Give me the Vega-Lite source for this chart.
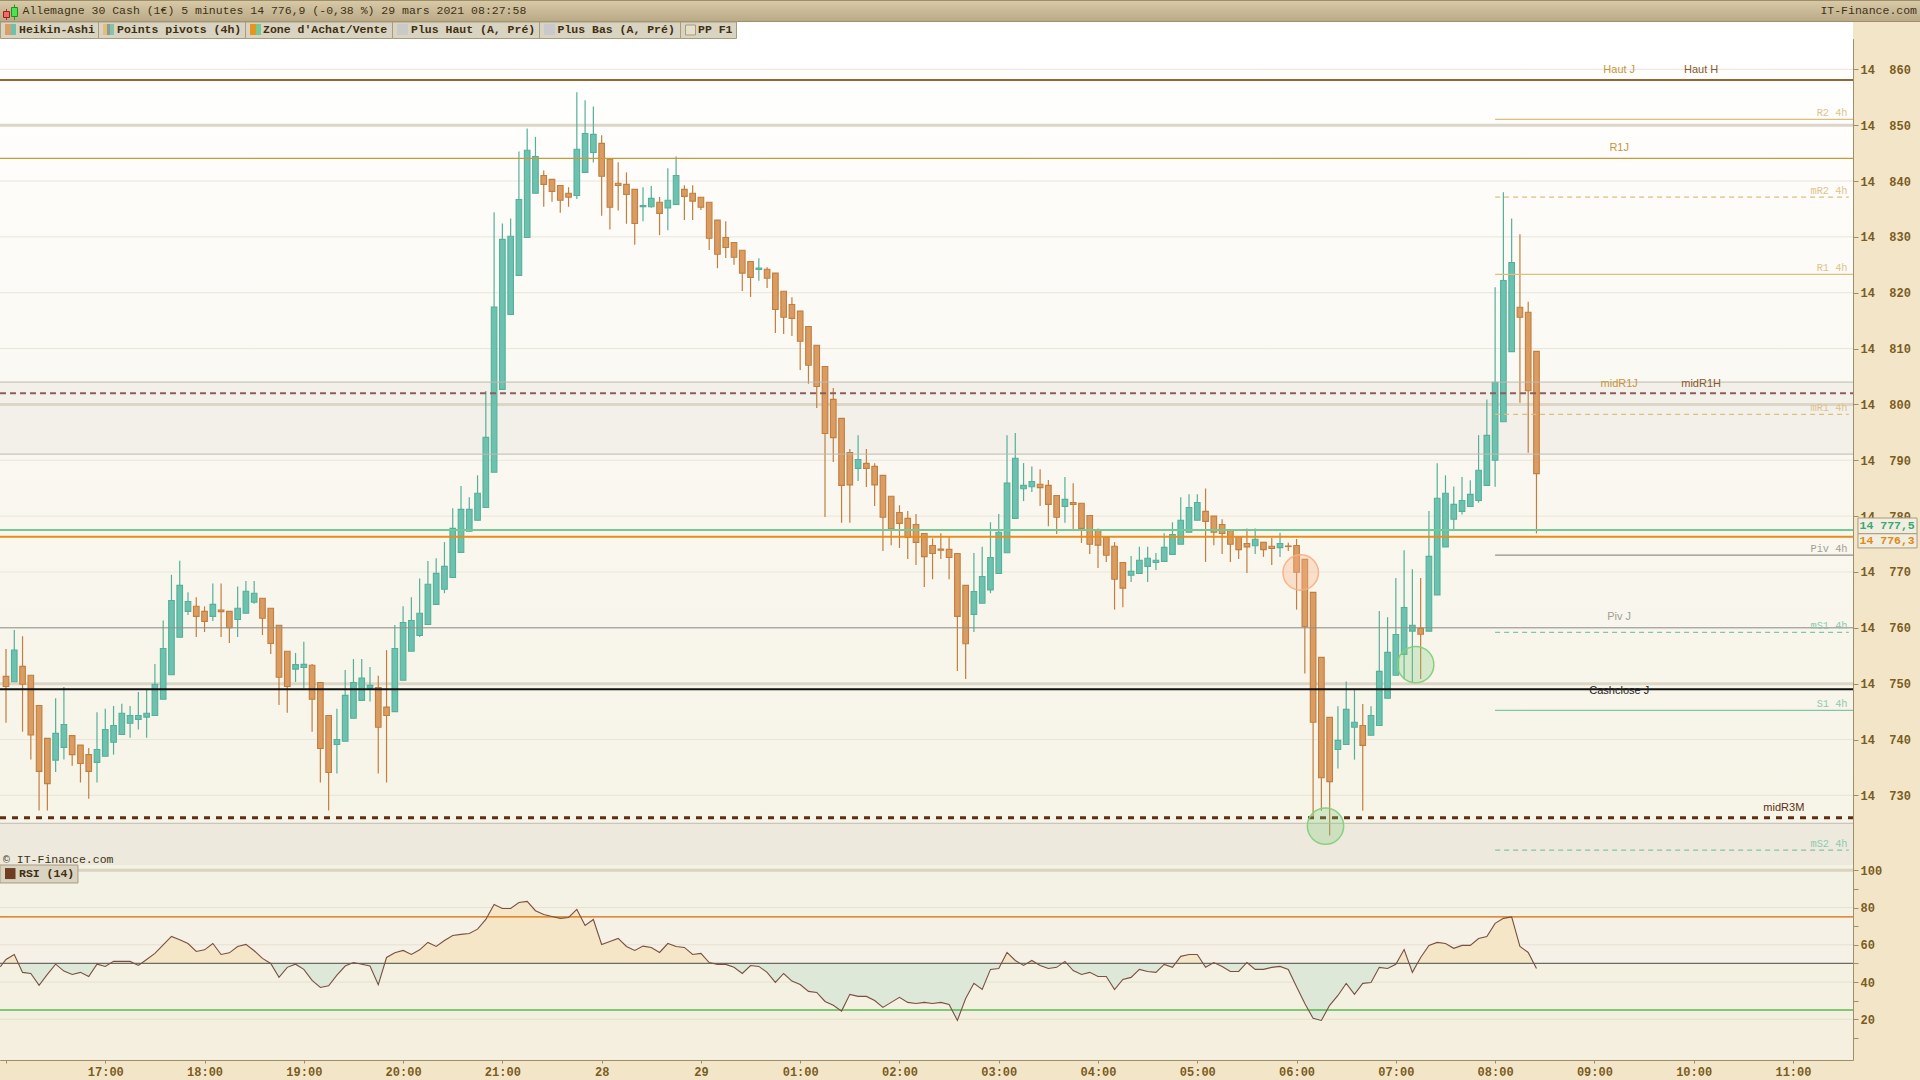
{
  "$schema": "https://vega.github.io/schema/vega-lite/v6.json",
  "padding": {"left": -3, "top": 0, "right": 0, "bottom": 0},
  "background": "#f3e6c8",
  "spacing": 0,
  "bounds": "flush",
  "config": {"concat": {"spacing": 0}, "text": {"font": "Liberation Mono"}},
  "datasets": {
    "candles": [
      {"i":0,"open":14751.3,"high":14756.2,"low":14743,"close":14749.5},
      {"i":1,"open":14750.35,"high":14759.6,"low":14750.35,"close":14756},
      {"i":2,"open":14753.1,"high":14758.5,"low":14741.4,"close":14749.9},
      {"i":3,"open":14751.5,"high":14751.5,"low":14736.4,"close":14740.8},
      {"i":4,"open":14746.1,"high":14746.1,"low":14727.3,"close":14734.3},
      {"i":5,"open":14740.2,"high":14740.2,"low":14727.3,"close":14732.1},
      {"i":6,"open":14736.3,"high":14747.4,"low":14734.2,"close":14741.1},
      {"i":7,"open":14738.6,"high":14749.4,"low":14736.4,"close":14742.7},
      {"i":8,"open":14740.7,"high":14740.7,"low":14735.3,"close":14737.3},
      {"i":9,"open":14739,"high":14739,"low":14732.3,"close":14735.7},
      {"i":10,"open":14737.3,"high":14738.5,"low":14729.4,"close":14734.3},
      {"i":11,"open":14735.9,"high":14744.9,"low":14732.3,"close":14738.2},
      {"i":12,"open":14737,"high":14745.5,"low":14737,"close":14741.8},
      {"i":13,"open":14739.5,"high":14746,"low":14737.3,"close":14742.5},
      {"i":14,"open":14740.9,"high":14746.4,"low":14740.9,"close":14744.7},
      {"i":15,"open":14742.9,"high":14746,"low":14740.3,"close":14744.3},
      {"i":16,"open":14743.6,"high":14748.5,"low":14741.8,"close":14744.3},
      {"i":17,"open":14744,"high":14748.9,"low":14740.3,"close":14744.7},
      {"i":18,"open":14744.3,"high":14753.5,"low":14744.3,"close":14749.9},
      {"i":19,"open":14747.2,"high":14761.3,"low":14747.2,"close":14756.3},
      {"i":20,"open":14751.6,"high":14769.5,"low":14751.6,"close":14764.9},
      {"i":21,"open":14758.3,"high":14772,"low":14758.3,"close":14767.6},
      {"i":22,"open":14762.95,"high":14766.35,"low":14762.3,"close":14764.7},
      {"i":23,"open":14763.85,"high":14765.45,"low":14758.35,"close":14762.05},
      {"i":24,"open":14762.95,"high":14763.85,"low":14759.25,"close":14761.15},
      {"i":25,"open":14762.05,"high":14767.95,"low":14761.2,"close":14764.2},
      {"i":26,"open":14763.2,"high":14767.95,"low":14758.35,"close":14762.9},
      {"i":27,"open":14762.95,"high":14762.95,"low":14757.3,"close":14760},
      {"i":28,"open":14761.5,"high":14767.4,"low":14758.35,"close":14763.5},
      {"i":29,"open":14762.6,"high":14768.4,"low":14762.6,"close":14766.55},
      {"i":30,"open":14764.6,"high":14768.4,"low":14764.3,"close":14766.2},
      {"i":31,"open":14765.3,"high":14765.3,"low":14758.7,"close":14761.7},
      {"i":32,"open":14763.5,"high":14763.5,"low":14755.3,"close":14757.2},
      {"i":33,"open":14760.45,"high":14760.45,"low":14746.2,"close":14751.15},
      {"i":34,"open":14755.8,"high":14755.8,"low":14744.8,"close":14749.5},
      {"i":35,"open":14752.6,"high":14755.5,"low":14750.3,"close":14753.4},
      {"i":36,"open":14752.9,"high":14757.5,"low":14749.2,"close":14753.45},
      {"i":37,"open":14753.3,"high":14753.5,"low":14741.4,"close":14747.2},
      {"i":38,"open":14750.2,"high":14750.2,"low":14732.3,"close":14738.4},
      {"i":39,"open":14744.3,"high":14744.3,"low":14727.3,"close":14734.1},
      {"i":40,"open":14739.1,"high":14745.5,"low":14733.9,"close":14740},
      {"i":41,"open":14739.7,"high":14752.45,"low":14739.7,"close":14747.9},
      {"i":42,"open":14743.8,"high":14754.4,"low":14743.8,"close":14750.2},
      {"i":43,"open":14747,"high":14754.4,"low":14747,"close":14751},
      {"i":44,"open":14749.2,"high":14753,"low":14746.8,"close":14749.7},
      {"i":45,"open":14749.3,"high":14751.4,"low":14733.9,"close":14742.2},
      {"i":46,"open":14745.8,"high":14756,"low":14732.3,"close":14744.3},
      {"i":47,"open":14745,"high":14760.5,"low":14745,"close":14756.3},
      {"i":48,"open":14750.6,"high":14763.85,"low":14750.6,"close":14760.95},
      {"i":49,"open":14755.8,"high":14765.45,"low":14755.8,"close":14761.3},
      {"i":50,"open":14758.65,"high":14768.85,"low":14758.35,"close":14762.6},
      {"i":51,"open":14760.6,"high":14771.95,"low":14760.6,"close":14767.8},
      {"i":52,"open":14764.2,"high":14772.45,"low":14764.2,"close":14769.75},
      {"i":53,"open":14766.9,"high":14775.35,"low":14766.2,"close":14771},
      {"i":54,"open":14769,"high":14781.4,"low":14769,"close":14777.8},
      {"i":55,"open":14773.5,"high":14785.4,"low":14773.5,"close":14781.2},
      {"i":56,"open":14777.3,"high":14783.4,"low":14777.3,"close":14781.2},
      {"i":57,"open":14779.25,"high":14787.3,"low":14779.25,"close":14784.1},
      {"i":58,"open":14781.55,"high":14802.4,"low":14781.55,"close":14794.1},
      {"i":59,"open":14787.85,"high":14834.4,"low":14787.85,"close":14817.44},
      {"i":60,"open":14802.7,"high":14832.4,"low":14802.7,"close":14829.55},
      {"i":61,"open":14816.1,"high":14833.3,"low":14816.1,"close":14830.1},
      {"i":62,"open":14823.1,"high":14845.3,"low":14823.1,"close":14836.7},
      {"i":63,"open":14829.9,"high":14849.4,"low":14829.9,"close":14845.5},
      {"i":64,"open":14837.8,"high":14847.9,"low":14837.8,"close":14844.4},
      {"i":65,"open":14841,"high":14841.9,"low":14835.4,"close":14839.4},
      {"i":66,"open":14840.3,"high":14840.3,"low":14836.3,"close":14838.15},
      {"i":67,"open":14839.2,"high":14839.2,"low":14834.3,"close":14836.55},
      {"i":68,"open":14837.8,"high":14838.9,"low":14835.4,"close":14837.1},
      {"i":69,"open":14837.4,"high":14855.9,"low":14836.8,"close":14845.7},
      {"i":70,"open":14841.55,"high":14854.45,"low":14841.55,"close":14848.5},
      {"i":71,"open":14845.1,"high":14853.35,"low":14843.3,"close":14848.35},
      {"i":72,"open":14846.75,"high":14848.2,"low":14833.8,"close":14840.85},
      {"i":73,"open":14843.9,"high":14843.9,"low":14831.3,"close":14835.3},
      {"i":74,"open":14839.6,"high":14843.35,"low":14834.7,"close":14839.2},
      {"i":75,"open":14839.4,"high":14841.55,"low":14832.35,"close":14837.6},
      {"i":76,"open":14838.5,"high":14838.5,"low":14828.6,"close":14832.4},
      {"i":77,"open":14835.4,"high":14838.9,"low":14832.8,"close":14835.6},
      {"i":78,"open":14835.4,"high":14839.1,"low":14835.2,"close":14836.9},
      {"i":79,"open":14836.2,"high":14837.15,"low":14830.3,"close":14834.2},
      {"i":80,"open":14835.2,"high":14842.3,"low":14831.2,"close":14836.55},
      {"i":81,"open":14835.8,"high":14844.4,"low":14835.8,"close":14841},
      {"i":82,"open":14838.5,"high":14839.25,"low":14833,"close":14837.25},
      {"i":83,"open":14837.8,"high":14839.25,"low":14833,"close":14836.4},
      {"i":84,"open":14837.1,"high":14837.1,"low":14834.8,"close":14835.3},
      {"i":85,"open":14836.2,"high":14836.2,"low":14827.65,"close":14829.75},
      {"i":86,"open":14833,"high":14833,"low":14824.4,"close":14826.9},
      {"i":87,"open":14829.9,"high":14832.8,"low":14826.2,"close":14828.1},
      {"i":88,"open":14829,"high":14829,"low":14825,"close":14826.35},
      {"i":89,"open":14827.6,"high":14827.6,"low":14820.3,"close":14823.5},
      {"i":90,"open":14825.6,"high":14825.6,"low":14819.25,"close":14822.75},
      {"i":91,"open":14824.15,"high":14826.15,"low":14822.15,"close":14824.4},
      {"i":92,"open":14824.2,"high":14824.55,"low":14820.85,"close":14822.6},
      {"i":93,"open":14823.5,"high":14823.5,"low":14812.8,"close":14817},
      {"i":94,"open":14820.25,"high":14820.25,"low":14812.6,"close":14815.6},
      {"i":95,"open":14817.9,"high":14819.2,"low":14812.25,"close":14815.4},
      {"i":96,"open":14816.7,"high":14816.7,"low":14806.15,"close":14811.3},
      {"i":97,"open":14813.95,"high":14813.95,"low":14803.7,"close":14807},
      {"i":98,"open":14810.6,"high":14810.6,"low":14799.35,"close":14803.2},
      {"i":99,"open":14806.8,"high":14806.8,"low":14779.85,"close":14794.8},
      {"i":100,"open":14800.9,"high":14802.95,"low":14789.7,"close":14794.05},
      {"i":101,"open":14797.5,"high":14797.5,"low":14778.8,"close":14785.5},
      {"i":102,"open":14791.4,"high":14792,"low":14778.8,"close":14785.6},
      {"i":103,"open":14788.55,"high":14794.5,"low":14786.3,"close":14790.15},
      {"i":104,"open":14789.45,"high":14792,"low":14785.2,"close":14788.55},
      {"i":105,"open":14788.9,"high":14789.45,"low":14781.8,"close":14785.6},
      {"i":106,"open":14787.3,"high":14787.3,"low":14773.75,"close":14779.8},
      {"i":107,"open":14783.55,"high":14783.55,"low":14774.8,"close":14777.75},
      {"i":108,"open":14780.65,"high":14781.95,"low":14774.3,"close":14778.7},
      {"i":109,"open":14779.6,"high":14780.9,"low":14772.3,"close":14776.2},
      {"i":110,"open":14778.5,"high":14780.4,"low":14771.25,"close":14775.3},
      {"i":111,"open":14776.9,"high":14776.9,"low":14767.3,"close":14772.75},
      {"i":112,"open":14774.75,"high":14776,"low":14768.7,"close":14773.3},
      {"i":113,"open":14774.1,"high":14776.95,"low":14772.3,"close":14773.9},
      {"i":114,"open":14774.05,"high":14776.2,"low":14768.7,"close":14772.6},
      {"i":115,"open":14773.3,"high":14773.3,"low":14752.25,"close":14762.05},
      {"i":116,"open":14767.6,"high":14767.6,"low":14750.85,"close":14757.15},
      {"i":117,"open":14762.4,"high":14773.4,"low":14759.25,"close":14766.5},
      {"i":118,"open":14764.4,"high":14774.5,"low":14764.4,"close":14769.2},
      {"i":119,"open":14766.8,"high":14778.9,"low":14766.2,"close":14772.6},
      {"i":120,"open":14769.75,"high":14780.4,"low":14769.75,"close":14777.1},
      {"i":121,"open":14773.45,"high":14794.5,"low":14773.45,"close":14785.9},
      {"i":122,"open":14779.6,"high":14794.9,"low":14779.6,"close":14790.35},
      {"i":123,"open":14784.9,"high":14789.5,"low":14782.7,"close":14785.5},
      {"i":124,"open":14785.25,"high":14788.9,"low":14784.3,"close":14786.2},
      {"i":125,"open":14785.7,"high":14788.4,"low":14781.8,"close":14785.1},
      {"i":126,"open":14785.5,"high":14786.45,"low":14778.2,"close":14782.1},
      {"i":127,"open":14783.7,"high":14783.7,"low":14776.8,"close":14779.8},
      {"i":128,"open":14781.75,"high":14787,"low":14778.8,"close":14783},
      {"i":129,"open":14782.45,"high":14785.9,"low":14777.5,"close":14782.1},
      {"i":130,"open":14782.3,"high":14782.3,"low":14775.2,"close":14777.8},
      {"i":131,"open":14780.1,"high":14780.1,"low":14773.2,"close":14774.95},
      {"i":132,"open":14777.5,"high":14777.8,"low":14770.7,"close":14774.8},
      {"i":133,"open":14776.2,"high":14776.2,"low":14771.8,"close":14773},
      {"i":134,"open":14774.6,"high":14775.35,"low":14763.25,"close":14768.7},
      {"i":135,"open":14771.7,"high":14771.7,"low":14763.7,"close":14767.1},
      {"i":136,"open":14769.4,"high":14772.85,"low":14768.2,"close":14770.1},
      {"i":137,"open":14769.75,"high":14774.5,"low":14769.75,"close":14772.1},
      {"i":138,"open":14771,"high":14774.5,"low":14768.2,"close":14772.45},
      {"i":139,"open":14771.7,"high":14773.4,"low":14770.35,"close":14772.1},
      {"i":140,"open":14771.9,"high":14776.95,"low":14771.9,"close":14774.4},
      {"i":141,"open":14773.15,"high":14778.9,"low":14773.15,"close":14776.7},
      {"i":142,"open":14774.95,"high":14783.4,"low":14774.95,"close":14779.25},
      {"i":143,"open":14777.1,"high":14783.9,"low":14777.1,"close":14781.55},
      {"i":144,"open":14779.25,"high":14783.9,"low":14779.25,"close":14782.45},
      {"i":145,"open":14780.85,"high":14784.95,"low":14771.8,"close":14779.05},
      {"i":146,"open":14780,"high":14780,"low":14774.8,"close":14777.1},
      {"i":147,"open":14778.5,"high":14779.45,"low":14773.2,"close":14776.9},
      {"i":148,"open":14777.6,"high":14777.6,"low":14771.8,"close":14774.95},
      {"i":149,"open":14776.3,"high":14776.3,"low":14772.3,"close":14774},
      {"i":150,"open":14775.1,"high":14777.8,"low":14769.8,"close":14774.5},
      {"i":151,"open":14774.7,"high":14777.8,"low":14773.2,"close":14775.85},
      {"i":152,"open":14775.3,"high":14775.3,"low":14772.7,"close":14774},
      {"i":153,"open":14774.6,"high":14776.1,"low":14771.25,"close":14774.2},
      {"i":154,"open":14774.35,"high":14777,"low":14772.7,"close":14775.1},
      {"i":155,"open":14774.65,"high":14775.25,"low":14773.75,"close":14774.55},
      {"i":156,"open":14774.75,"high":14775.9,"low":14763.25,"close":14769.95},
      {"i":157,"open":14772.25,"high":14772.25,"low":14751.8,"close":14760.2},
      {"i":158,"open":14766.35,"high":14766.35,"low":14726.2,"close":14743.1},
      {"i":159,"open":14754.7,"high":14754.7,"low":14727.25,"close":14733.15},
      {"i":160,"open":14743.97,"high":14743.97,"low":14722.8,"close":14732.45},
      {"i":161,"open":14738.2,"high":14745.95,"low":14734.8,"close":14739.85},
      {"i":162,"open":14739.1,"high":14750.4,"low":14739.1,"close":14745.4},
      {"i":163,"open":14742.2,"high":14748.85,"low":14736.4,"close":14743.1},
      {"i":164,"open":14742.5,"high":14746.35,"low":14727.25,"close":14738.95},
      {"i":165,"open":14740.75,"high":14745.95,"low":14740.75,"close":14744.3},
      {"i":166,"open":14742.5,"high":14763,"low":14742.5,"close":14752.2},
      {"i":167,"open":14747.4,"high":14761.9,"low":14747.4,"close":14755.6},
      {"i":168,"open":14751.5,"high":14768.9,"low":14751.5,"close":14758.8},
      {"i":169,"open":14755.25,"high":14773.9,"low":14750.8,"close":14763.65},
      {"i":170,"open":14759.4,"high":14770.5,"low":14750.2,"close":14760.45},
      {"i":171,"open":14759.9,"high":14768.9,"low":14750.85,"close":14758.85},
      {"i":172,"open":14759.4,"high":14780.9,"low":14759.4,"close":14772.8},
      {"i":173,"open":14765.9,"high":14789.45,"low":14765.9,"close":14783.2},
      {"i":174,"open":14774.5,"high":14787.3,"low":14774.5,"close":14784.1},
      {"i":175,"open":14779.45,"high":14785.3,"low":14777.7,"close":14782.1},
      {"i":176,"open":14780.85,"high":14787,"low":14780.3,"close":14782.8},
      {"i":177,"open":14781.75,"high":14786.4,"low":14781.75,"close":14783.9},
      {"i":178,"open":14782.8,"high":14794.5,"low":14782.4,"close":14788.2},
      {"i":179,"open":14785.5,"high":14800.9,"low":14785.5,"close":14794.45},
      {"i":180,"open":14790,"high":14820.96,"low":14785.25,"close":14803.95},
      {"i":181,"open":14796.9,"high":14837.97,"low":14796.9,"close":14822.2},
      {"i":182,"open":14809.45,"high":14833.3,"low":14809.45,"close":14825.4},
      {"i":183,"open":14817.4,"high":14830.45,"low":14800.3,"close":14815.6},
      {"i":184,"open":14816.5,"high":14818.4,"low":14791.35,"close":14802.45},
      {"i":185,"open":14809.5,"high":14809.5,"low":14776.9,"close":14787.6}
    ],
    "rsi": [
      {"i":-0.7,"rsi":48.2},{"i":0,"rsi":52.1},{"i":1,"rsi":54.8},{"i":2,"rsi":45.2},{"i":3,"rsi":44.6},{"i":4,"rsi":38.2},{"i":5,"rsi":44.1},{"i":6,"rsi":49.6},{"i":7,"rsi":45.9},{"i":8,"rsi":44.1},
      {"i":9,"rsi":45.2},{"i":10,"rsi":43},{"i":11,"rsi":49.6},{"i":12,"rsi":48.4},{"i":13,"rsi":51.1},{"i":14,"rsi":51.1},{"i":15,"rsi":51.1},{"i":16,"rsi":48.9},{"i":17,"rsi":52.1},{"i":18,"rsi":55.4},
      {"i":19,"rsi":60},{"i":20,"rsi":64.5},{"i":21,"rsi":62.7},{"i":22,"rsi":60.7},{"i":23,"rsi":56.4},{"i":24,"rsi":57.3},{"i":25,"rsi":60.7},{"i":26,"rsi":54.8},{"i":27,"rsi":55.7},{"i":28,"rsi":59.1},
      {"i":29,"rsi":60.2},{"i":30,"rsi":56.8},{"i":31,"rsi":52.7},{"i":32,"rsi":50},{"i":33,"rsi":42.5},{"i":34,"rsi":47.9},{"i":35,"rsi":49.6},{"i":36,"rsi":46.8},{"i":37,"rsi":40.9},{"i":38,"rsi":37.1},
      {"i":39,"rsi":38},{"i":40,"rsi":43.7},{"i":41,"rsi":48.6},{"i":42,"rsi":50.5},{"i":43,"rsi":49.6},{"i":44,"rsi":48.6},{"i":45,"rsi":38.6},{"i":46,"rsi":53.2},{"i":47,"rsi":55.7},{"i":48,"rsi":57},
      {"i":49,"rsi":54.8},{"i":50,"rsi":57.3},{"i":51,"rsi":61.3},{"i":52,"rsi":59.1},{"i":53,"rsi":62.3},{"i":54,"rsi":65},{"i":55,"rsi":65.6},{"i":56,"rsi":66.1},{"i":57,"rsi":68.4},{"i":58,"rsi":73.6},
      {"i":59,"rsi":81.7},{"i":60,"rsi":79.5},{"i":61,"rsi":79.5},{"i":62,"rsi":82.7},{"i":63,"rsi":83.3},{"i":64,"rsi":78.3},{"i":65,"rsi":76.3},{"i":66,"rsi":75.2},{"i":67,"rsi":74.2},{"i":68,"rsi":74.7},
      {"i":69,"rsi":79},{"i":70,"rsi":70.4},{"i":71,"rsi":73.6},{"i":72,"rsi":60.2},{"i":73,"rsi":61.8},{"i":74,"rsi":63.4},{"i":75,"rsi":59.1},{"i":76,"rsi":57},{"i":77,"rsi":59.3},{"i":78,"rsi":58.6},
      {"i":79,"rsi":55.9},{"i":80,"rsi":60.7},{"i":81,"rsi":59.1},{"i":82,"rsi":58.6},{"i":83,"rsi":54.8},{"i":84,"rsi":55.4},{"i":85,"rsi":50.5},{"i":86,"rsi":49.5},{"i":87,"rsi":49.5},{"i":88,"rsi":47.9},
      {"i":89,"rsi":44.6},{"i":90,"rsi":48.9},{"i":91,"rsi":48.4},{"i":92,"rsi":45.2},{"i":93,"rsi":39.8},{"i":94,"rsi":44.6},{"i":95,"rsi":40.5},{"i":96,"rsi":38.7},{"i":97,"rsi":35},{"i":98,"rsi":34.4},
      {"i":99,"rsi":29.6},{"i":100,"rsi":27.5},{"i":101,"rsi":24.4},{"i":102,"rsi":33.4},{"i":103,"rsi":32.3},{"i":104,"rsi":32.3},{"i":105,"rsi":30.1},{"i":106,"rsi":26.4},{"i":107,"rsi":29.1},{"i":108,"rsi":31.8},
      {"i":109,"rsi":29.1},{"i":110,"rsi":28.5},{"i":111,"rsi":29.1},{"i":112,"rsi":28.5},{"i":113,"rsi":29.1},{"i":114,"rsi":28},{"i":115,"rsi":19.4},{"i":116,"rsi":31.2},{"i":117,"rsi":39.3},{"i":118,"rsi":36},
      {"i":119,"rsi":46.8},{"i":120,"rsi":47.3},{"i":121,"rsi":55.9},{"i":122,"rsi":51.6},{"i":123,"rsi":48.9},{"i":124,"rsi":51.6},{"i":125,"rsi":48.9},{"i":126,"rsi":47.3},{"i":127,"rsi":47.9},{"i":128,"rsi":51.1},
      {"i":129,"rsi":46.2},{"i":130,"rsi":44.1},{"i":131,"rsi":45.2},{"i":132,"rsi":43},{"i":133,"rsi":43},{"i":134,"rsi":36},{"i":135,"rsi":41.4},{"i":136,"rsi":42.5},{"i":137,"rsi":46.8},{"i":138,"rsi":45.7},
      {"i":139,"rsi":45.2},{"i":140,"rsi":49.5},{"i":141,"rsi":47.9},{"i":142,"rsi":53.8},{"i":143,"rsi":54.8},{"i":144,"rsi":54.8},{"i":145,"rsi":47.9},{"i":146,"rsi":50.5},{"i":147,"rsi":48.4},{"i":148,"rsi":45.7},
      {"i":149,"rsi":45.7},{"i":150,"rsi":50.5},{"i":151,"rsi":46.8},{"i":152,"rsi":46.8},{"i":153,"rsi":47.9},{"i":154,"rsi":48.4},{"i":155,"rsi":46.8},{"i":156,"rsi":37.5},{"i":157,"rsi":28.5},{"i":158,"rsi":20.5},
      {"i":159,"rsi":19.4},{"i":160,"rsi":27.5},{"i":161,"rsi":32.8},{"i":162,"rsi":39.3},{"i":163,"rsi":33.4},{"i":164,"rsi":39.3},{"i":165,"rsi":39.8},{"i":166,"rsi":47.9},{"i":167,"rsi":47.3},{"i":168,"rsi":49.5},
      {"i":169,"rsi":57.5},{"i":170,"rsi":45.2},{"i":171,"rsi":53.2},{"i":172,"rsi":59.7},{"i":173,"rsi":61.3},{"i":174,"rsi":60.7},{"i":175,"rsi":58.1},{"i":176,"rsi":59.7},{"i":177,"rsi":59.7},{"i":178,"rsi":63.4},
      {"i":179,"rsi":64.5},{"i":180,"rsi":71.5},{"i":181,"rsi":74.2},{"i":182,"rsi":75},{"i":183,"rsi":59.1},{"i":184,"rsi":55.9},{"i":185,"rsi":47.3}
    ]
  },
  "vconcat": [
    {
      "width": 1920,
      "height": 22,
      "view": {"stroke": null},
      "data": {"values": [{}]},
      "encoding": {
        "x": {"type": "quantitative", "scale": {"domain": [0, 1920], "nice": false}, "axis": null},
        "y": {"type": "quantitative", "scale": {"domain": [22, 0], "nice": false, "zero": false}, "axis": null}
      },
      "layer": [
        {"mark": {"type": "rect", "fill": {"gradient": "linear", "x1": 0, "y1": 0, "x2": 0, "y2": 1, "stops": [{"offset": 0, "color": "#dacba8"}, {"offset": 1, "color": "#b8a886"}]}}, "encoding": {"x": {"datum": 0}, "x2": {"datum": 1920}, "y": {"datum": 0}, "y2": {"datum": 22}}},
        {"mark": {"type": "rule", "stroke": "#9c8f6a", "strokeWidth": 1}, "encoding": {"x": {"datum": 0}, "x2": {"datum": 1920}, "y": {"datum": 21.5}}},
        {"mark": {"type": "rule", "stroke": "#9c8f6a", "strokeWidth": 1}, "encoding": {"x": {"datum": 0}, "x2": {"datum": 1920}, "y": {"datum": 0.5}}},
        {"mark": {"type": "rule", "stroke": "#b03030", "strokeWidth": 1}, "encoding": {"x": {"datum": 6.5}, "y": {"datum": 9}, "y2": {"datum": 20}}},
        {"mark": {"type": "rect", "fill": "#f06a6a", "stroke": "#a02020"}, "encoding": {"x": {"datum": 3.5}, "x2": {"datum": 9.5}, "y": {"datum": 11.5}, "y2": {"datum": 17.5}}},
        {"mark": {"type": "rule", "stroke": "#20a020", "strokeWidth": 1}, "encoding": {"x": {"datum": 14.5}, "y": {"datum": 4.5}, "y2": {"datum": 20}}},
        {"mark": {"type": "rect", "fill": "#50e050", "stroke": "#209020"}, "encoding": {"x": {"datum": 11.5}, "x2": {"datum": 17.5}, "y": {"datum": 7.5}, "y2": {"datum": 16.5}}},
        {"data": {"values": [{"label": "Allemagne 30 Cash (1€) 5 minutes 14 776,9 (-0,38 %) 29 mars 2021 08:27:58"}]}, "mark": {"type": "text", "align": "left", "baseline": "middle", "font": "Liberation Mono", "fontSize": 11.5, "fill": "#3d3216"}, "encoding": {"x": {"datum": 22.5}, "y": {"datum": 11}, "text": {"field": "label"}}},
        {"data": {"values": [{"label": "IT-Finance.com"}]}, "mark": {"type": "text", "align": "right", "baseline": "middle", "font": "Liberation Mono", "fontSize": 11.5, "fill": "#3d3216"}, "encoding": {"x": {"datum": 1917}, "y": {"datum": 11}, "text": {"field": "label"}}}
      ]
    },
    {
      "width": 1853,
      "height": 17,
      "view": {"stroke": null, "fill": "#ffffff"},
      "data": {"values": [{}]},
      "encoding": {
        "x": {"type": "quantitative", "scale": {"domain": [0, 1853], "nice": false}, "axis": null},
        "y": {"type": "quantitative", "scale": {"domain": [17, 0], "nice": false, "zero": false}, "axis": null}
      },
      "layer": [
        {"mark": {"type": "rect", "fill": "#d9d3c1", "stroke": "#a89c7c"}, "encoding": {"x": {"datum": 0.5}, "x2": {"datum": 98.5}, "y": {"datum": 0}, "y2": {"datum": 16.5}}},
        {"mark": {"type": "rect", "fill": "#d9d3c1", "stroke": "#a89c7c"}, "encoding": {"x": {"datum": 98.5}, "x2": {"datum": 245.5}, "y": {"datum": 0}, "y2": {"datum": 16.5}}},
        {"mark": {"type": "rect", "fill": "#d9d3c1", "stroke": "#a89c7c"}, "encoding": {"x": {"datum": 245.5}, "x2": {"datum": 392.5}, "y": {"datum": 0}, "y2": {"datum": 16.5}}},
        {"mark": {"type": "rect", "fill": "#d9d3c1", "stroke": "#a89c7c"}, "encoding": {"x": {"datum": 392.5}, "x2": {"datum": 539.5}, "y": {"datum": 0}, "y2": {"datum": 16.5}}},
        {"mark": {"type": "rect", "fill": "#d9d3c1", "stroke": "#a89c7c"}, "encoding": {"x": {"datum": 539.5}, "x2": {"datum": 680.5}, "y": {"datum": 0}, "y2": {"datum": 16.5}}},
        {"mark": {"type": "rect", "fill": "#d9d3c1", "stroke": "#a89c7c"}, "encoding": {"x": {"datum": 680.5}, "x2": {"datum": 736.5}, "y": {"datum": 0}, "y2": {"datum": 16.5}}},
        {"mark": {"type": "rect", "fill": "#dd9f68"}, "encoding": {"x": {"datum": 5}, "x2": {"datum": 11}, "y": {"datum": 2}, "y2": {"datum": 13}}},
        {"mark": {"type": "rect", "fill": "#6ec1ae"}, "encoding": {"x": {"datum": 11}, "x2": {"datum": 16}, "y": {"datum": 2}, "y2": {"datum": 13}}},
        {"mark": {"type": "rect", "fill": "#e0c078"}, "encoding": {"x": {"datum": 103}, "x2": {"datum": 107}, "y": {"datum": 2}, "y2": {"datum": 13}}},
        {"mark": {"type": "rect", "fill": "#929a90"}, "encoding": {"x": {"datum": 107}, "x2": {"datum": 110}, "y": {"datum": 2}, "y2": {"datum": 13}}},
        {"mark": {"type": "rect", "fill": "#84c4a8"}, "encoding": {"x": {"datum": 110}, "x2": {"datum": 114}, "y": {"datum": 2}, "y2": {"datum": 13}}},
        {"mark": {"type": "rect", "fill": "#e6951f"}, "encoding": {"x": {"datum": 250}, "x2": {"datum": 256}, "y": {"datum": 2}, "y2": {"datum": 13}}},
        {"mark": {"type": "rect", "fill": "#74c996"}, "encoding": {"x": {"datum": 256}, "x2": {"datum": 261}, "y": {"datum": 2}, "y2": {"datum": 13}}},
        {"mark": {"type": "rect", "fill": "#c9c9c5"}, "encoding": {"x": {"datum": 397}, "x2": {"datum": 408}, "y": {"datum": 2}, "y2": {"datum": 13}}},
        {"mark": {"type": "rect", "fill": "#c9c9cb"}, "encoding": {"x": {"datum": 544}, "x2": {"datum": 555}, "y": {"datum": 2}, "y2": {"datum": 13}}},
        {"mark": {"type": "rect", "fill": "#e6dfcc", "stroke": "#a89c7c"}, "encoding": {"x": {"datum": 685.5}, "x2": {"datum": 695.5}, "y": {"datum": 3}, "y2": {"datum": 13}}},
        {"data": {"values": [{"label": "Heikin-Ashi"}]}, "mark": {"type": "text", "align": "left", "baseline": "middle", "font": "Liberation Mono", "fontWeight": "bold", "fontSize": 11.5, "fill": "#3f2f10"}, "encoding": {"x": {"datum": 19}, "y": {"datum": 8}, "text": {"field": "label"}}},
        {"data": {"values": [{"label": "Points pivots (4h)"}]}, "mark": {"type": "text", "align": "left", "baseline": "middle", "font": "Liberation Mono", "fontWeight": "bold", "fontSize": 11.5, "fill": "#3f2f10"}, "encoding": {"x": {"datum": 117}, "y": {"datum": 8}, "text": {"field": "label"}}},
        {"data": {"values": [{"label": "Zone d'Achat/Vente"}]}, "mark": {"type": "text", "align": "left", "baseline": "middle", "font": "Liberation Mono", "fontWeight": "bold", "fontSize": 11.5, "fill": "#3f2f10"}, "encoding": {"x": {"datum": 263}, "y": {"datum": 8}, "text": {"field": "label"}}},
        {"data": {"values": [{"label": "Plus Haut (A, Pré)"}]}, "mark": {"type": "text", "align": "left", "baseline": "middle", "font": "Liberation Mono", "fontWeight": "bold", "fontSize": 11.5, "fill": "#3f2f10"}, "encoding": {"x": {"datum": 411}, "y": {"datum": 8}, "text": {"field": "label"}}},
        {"data": {"values": [{"label": "Plus Bas (A, Pré)"}]}, "mark": {"type": "text", "align": "left", "baseline": "middle", "font": "Liberation Mono", "fontWeight": "bold", "fontSize": 11.5, "fill": "#3f2f10"}, "encoding": {"x": {"datum": 557.5}, "y": {"datum": 8}, "text": {"field": "label"}}},
        {"data": {"values": [{"label": "PP F1"}]}, "mark": {"type": "text", "align": "left", "baseline": "middle", "font": "Liberation Mono", "fontWeight": "bold", "fontSize": 11.5, "fill": "#3f2f10"}, "encoding": {"x": {"datum": 698}, "y": {"datum": 8}, "text": {"field": "label"}}}
      ]
    },
    {
      "width": 1853,
      "height": 826,
      "view": {"stroke": "#9c8f6a"},
      "data": {"values": [{}]},
      "encoding": {
        "x": {"type": "quantitative", "scale": {"domain": [-0.725, 223.26], "nice": false, "zero": false, "padding": 0}, "axis": null},
        "y": {
          "type": "quantitative",
          "title": null,
          "scale": {"domain": [14717.53, 14865.43], "nice": false, "zero": false},
          "axis": {
            "orient": "right", "grid": false, "domain": false, "tickColor": "#9c8f6a", "tickSize": 5, "labelPadding": 2,
            "values": [14730, 14740, 14750, 14760, 14770, 14780, 14790, 14800, 14810, 14820, 14830, 14840, 14850, 14860],
            "labelExpr": "'14\u00a0\u00a0' + format(datum.value - 14000, '03d')",
            "labelFont": "Liberation Mono", "labelFontWeight": "bold", "labelFontSize": 12, "labelColor": "#7a5c1e", "labelOverlap": false, "title": null
          }
        }
      },
      "layer": [
        {"mark": {"type": "rect", "fill": {"gradient": "linear", "x1": 0, "y1": 0, "x2": 0, "y2": 1, "stops": [{"offset": 0, "color": "#ffffff"}, {"offset": 0.45, "color": "#faf8f1"}, {"offset": 1, "color": "#f6f3e6"}]}}, "encoding": {"x": {"datum": -0.725}, "x2": {"datum": 223.26}, "y": {"datum": 14717.53}, "y2": {"datum": 14865.43}}},
        {"mark": {"type": "rect", "fill": "#f2f0e9"}, "encoding": {"x": {"datum": -0.725}, "x2": {"datum": 223.26}, "y": {"datum": 14791.1}, "y2": {"datum": 14804}}},
        {"mark": {"type": "rect", "fill": "#ede9dd"}, "encoding": {"x": {"datum": -0.725}, "x2": {"datum": 223.26}, "y": {"datum": 14717.53}, "y2": {"datum": 14725}}},
        {
          "data": {"values": [{"price": 14730}, {"price": 14740}, {"price": 14760}, {"price": 14770}, {"price": 14780}, {"price": 14790}, {"price": 14810}, {"price": 14820}, {"price": 14830}, {"price": 14840}, {"price": 14860}]},
          "mark": {"type": "rule", "stroke": "#e9e5d9", "strokeWidth": 1},
          "encoding": {"x": {"datum": -0.725}, "x2": {"datum": 223.26}, "y": {"field": "price"}}
        },
        {
          "data": {"values": [{"price": 14750}, {"price": 14800}, {"price": 14850}]},
          "mark": {"type": "rule", "stroke": "#dcd6c6", "strokeWidth": 3},
          "encoding": {"x": {"datum": -0.725}, "x2": {"datum": 223.26}, "y": {"field": "price"}}
        },
        {
          "data": {"name": "candles"},
          "mark": {"type": "rule", "strokeWidth": 1.2},
          "encoding": {
            "x": {"field": "i"},
            "y": {"field": "high"},
            "y2": {"field": "low"},
            "stroke": {"condition": {"test": "datum.close >= datum.open", "value": "#55b09a"}, "value": "#c07f40"}
          }
        },
        {
          "data": {"name": "candles"},
          "mark": {"type": "bar", "size": 5.6, "strokeWidth": 1.1, "orient": "vertical"},
          "encoding": {
            "x": {"field": "i"},
            "y": {"field": "open"},
            "y2": {"field": "close"},
            "fill": {"condition": {"test": "datum.close >= datum.open", "value": "#6cc2af"}, "value": "#db9c62"},
            "stroke": {"condition": {"test": "datum.close >= datum.open", "value": "#55b09a"}, "value": "#c07f40"}
          }
        },
        {
          "data": {"values": [{"price": 14804}, {"price": 14791.1}, {"price": 14725}]},
          "mark": {"type": "rule", "stroke": "#bdbab0", "strokeWidth": 1},
          "encoding": {"x": {"datum": -0.725}, "x2": {"datum": 223.26}, "y": {"field": "price"}}
        },
        {
          "data": {"values": [{"price": 14760}]},
          "mark": {"type": "rule", "stroke": "#8f8f8c", "strokeWidth": 1},
          "encoding": {"x": {"datum": -0.725}, "x2": {"datum": 223.26}, "y": {"field": "price"}}
        },
        {
          "data": {"values": [{"price": 14858.1}]},
          "mark": {"type": "rule", "stroke": "#946634", "strokeWidth": 2},
          "encoding": {"x": {"datum": -0.725}, "x2": {"datum": 223.26}, "y": {"field": "price"}}
        },
        {
          "data": {"values": [{"price": 14844.06}]},
          "mark": {"type": "rule", "stroke": "#c89a3a", "strokeWidth": 1.2},
          "encoding": {"x": {"datum": -0.725}, "x2": {"datum": 223.26}, "y": {"field": "price"}}
        },
        {
          "data": {"values": [{"price": 14802}]},
          "mark": {"type": "rule", "stroke": "#8e5e5e", "strokeWidth": 2, "strokeDash": [6, 4]},
          "encoding": {"x": {"datum": -0.725}, "x2": {"datum": 223.26}, "y": {"field": "price"}}
        },
        {
          "data": {"values": [{"price": 14777.5}]},
          "mark": {"type": "rule", "stroke": "#74c996", "strokeWidth": 2},
          "encoding": {"x": {"datum": -0.725}, "x2": {"datum": 223.26}, "y": {"field": "price"}}
        },
        {
          "data": {"values": [{"price": 14776.3}]},
          "mark": {"type": "rule", "stroke": "#e68f1a", "strokeWidth": 2},
          "encoding": {"x": {"datum": -0.725}, "x2": {"datum": 223.26}, "y": {"field": "price"}}
        },
        {
          "data": {"values": [{"price": 14749}]},
          "mark": {"type": "rule", "stroke": "#111111", "strokeWidth": 2},
          "encoding": {"x": {"datum": -0.725}, "x2": {"datum": 223.26}, "y": {"field": "price"}}
        },
        {
          "data": {"values": [{"price": 14726}]},
          "mark": {"type": "rule", "stroke": "#5e2f12", "strokeWidth": 3, "strokeDash": [6, 6]},
          "encoding": {"x": {"datum": -0.725}, "x2": {"datum": 223.26}, "y": {"field": "price"}}
        },
        {
          "data": {"values": [{"price": 14851.05}, {"price": 14823.3}]},
          "mark": {"type": "rule", "stroke": "#dbbf7c", "strokeWidth": 1.2},
          "encoding": {"x": {"datum": 180}, "x2": {"datum": 223.26}, "y": {"field": "price"}}
        },
        {
          "data": {"values": [{"price": 14837.1}, {"price": 14798.2}]},
          "mark": {"type": "rule", "stroke": "#dbbf7c", "strokeWidth": 1.2, "strokeDash": [5, 4]},
          "encoding": {"x": {"datum": 180}, "x2": {"datum": 222.75}, "y": {"field": "price"}}
        },
        {
          "data": {"values": [{"price": 14773}]},
          "mark": {"type": "rule", "stroke": "#8f8f8c", "strokeWidth": 1.2},
          "encoding": {"x": {"datum": 180}, "x2": {"datum": 223.26}, "y": {"field": "price"}}
        },
        {
          "data": {"values": [{"price": 14745.2}]},
          "mark": {"type": "rule", "stroke": "#84c4a8", "strokeWidth": 1.2},
          "encoding": {"x": {"datum": 180}, "x2": {"datum": 223.26}, "y": {"field": "price"}}
        },
        {
          "data": {"values": [{"price": 14759.2}, {"price": 14720.2}]},
          "mark": {"type": "rule", "stroke": "#84c4a8", "strokeWidth": 1.2, "strokeDash": [5, 4]},
          "encoding": {"x": {"datum": 180}, "x2": {"datum": 222.75}, "y": {"field": "price"}}
        },
        {
          "data": {"values": [{"i": 156.5, "price": 14769.9}]},
          "mark": {"type": "circle", "size": 1260, "fill": "#f8b48a", "fillOpacity": 0.35, "stroke": "#f8ae82", "strokeWidth": 1.5, "strokeOpacity": 0.9},
          "encoding": {"x": {"field": "i"}, "y": {"field": "price"}}
        },
        {
          "data": {"values": [{"i": 170.4, "price": 14753.4}, {"i": 159.5, "price": 14724.5}]},
          "mark": {"type": "circle", "size": 1320, "fill": "#86cc7e", "fillOpacity": 0.3, "stroke": "#84cf7c", "strokeWidth": 1.5, "strokeOpacity": 0.95},
          "encoding": {"x": {"field": "i"}, "y": {"field": "price"}}
        },
        {
          "data": {"values": [
            {"label": "Haut J", "i": 195, "price": 14859.8},
            {"label": "Haut H", "i": 204.9, "price": 14859.8},
            {"label": "R1J", "i": 195, "price": 14845.85},
            {"label": "midR1J", "i": 195, "price": 14803.7},
            {"label": "midR1H", "i": 204.9, "price": 14803.7},
            {"label": "Piv J", "i": 195, "price": 14761.9},
            {"label": "Cashclose J", "i": 195, "price": 14748.7},
            {"label": "midR3M", "i": 214.9, "price": 14727.8}
          ]},
          "mark": {"type": "text", "align": "center", "baseline": "middle", "font": "Liberation Sans", "fontSize": 11},
          "encoding": {
            "x": {"field": "i"},
            "y": {"field": "price"},
            "text": {"field": "label"},
            "fill": {
              "field": "label",
              "type": "nominal",
              "legend": null,
              "scale": {
                "domain": ["Haut J", "Haut H", "R1J", "midR1J", "midR1H", "Piv J", "Cashclose J", "midR3M"],
                "range": ["#c8963c", "#8a5a2b", "#c8963c", "#c8963c", "#8a5a2b", "#a0a096", "#222222", "#5e2f12"]
              }
            }
          }
        },
        {
          "data": {"values": [
            {"label": "R2 4h", "price": 14852.2},
            {"label": "mR2 4h", "price": 14838.2},
            {"label": "R1 4h", "price": 14824.4},
            {"label": "mR1 4h", "price": 14799.3}
          ]},
          "mark": {"type": "text", "align": "right", "baseline": "middle", "font": "Liberation Mono", "fontSize": 10.3, "fill": "#dcc48c"},
          "encoding": {"x": {"datum": 222.6}, "y": {"field": "price"}, "text": {"field": "label"}}
        },
        {
          "data": {"values": [{"label": "Piv 4h", "price": 14774.1}]},
          "mark": {"type": "text", "align": "right", "baseline": "middle", "font": "Liberation Mono", "fontSize": 10.3, "fill": "#a0a096"},
          "encoding": {"x": {"datum": 222.6}, "y": {"field": "price"}, "text": {"field": "label"}}
        },
        {
          "data": {"values": [
            {"label": "mS1 4h", "price": 14760.3},
            {"label": "S1 4h", "price": 14746.4},
            {"label": "mS2 4h", "price": 14721.3}
          ]},
          "mark": {"type": "text", "align": "right", "baseline": "middle", "font": "Liberation Mono", "fontSize": 10.3, "fill": "#8fc9b0"},
          "encoding": {"x": {"datum": 222.6}, "y": {"field": "price"}, "text": {"field": "label"}}
        },
        {
          "data": {"values": [{"label": "© IT-Finance.com"}]},
          "mark": {"type": "text", "align": "left", "baseline": "middle", "font": "Liberation Mono", "fontSize": 11.5, "fill": "#3d3216"},
          "encoding": {"x": {"datum": -0.36}, "y": {"datum": 14718.4}, "text": {"field": "label"}}
        },
        {
          "mark": {"type": "rect", "fill": "#f1ede1", "stroke": "#a89c7c"},
          "encoding": {"x": {"datum": 223.86}, "x2": {"datum": 231}, "y": {"datum": 14779.66}, "y2": {"datum": 14776.85}}
        },
        {
          "mark": {"type": "rect", "fill": "#f1ede1", "stroke": "#a89c7c"},
          "encoding": {"x": {"datum": 223.86}, "x2": {"datum": 231}, "y": {"datum": 14776.85}, "y2": {"datum": 14774.3}}
        },
        {
          "data": {"values": [{"label": "14\u00a0777,5", "price": 14778.25}]},
          "mark": {"type": "text", "align": "left", "baseline": "middle", "font": "Liberation Mono", "fontWeight": "bold", "fontSize": 11.5, "fill": "#3aa86f"},
          "encoding": {"x": {"datum": 224.05}, "y": {"field": "price"}, "text": {"field": "label"}}
        },
        {
          "data": {"values": [{"label": "14\u00a0776,3", "price": 14775.55}]},
          "mark": {"type": "text", "align": "left", "baseline": "middle", "font": "Liberation Mono", "fontWeight": "bold", "fontSize": 11.5, "fill": "#e08a10"},
          "encoding": {"x": {"datum": 224.05}, "y": {"field": "price"}, "text": {"field": "label"}}
        }
      ]
    },
    {
      "width": 1853,
      "height": 195,
      "view": {"stroke": "#9c8f6a"},
      "data": {"values": [{}]},
      "encoding": {
        "x": {
          "type": "quantitative",
          "title": null,
          "scale": {"domain": [-0.725, 223.26], "nice": false, "zero": false},
          "axis": {
            "grid": false, "domain": false, "tickColor": "#9c8f6a", "tickSize": 3, "labelPadding": 3, "minExtent": 20, "maxExtent": 20,
            "values": [0, 12, 24, 36, 48, 60, 72, 84, 96, 108, 120, 132, 144, 156, 168, 180, 192, 204, 216],
            "labelExpr": "['', '17:00', '18:00', '19:00', '20:00', '21:00', '28', '29', '01:00', '02:00', '03:00', '04:00', '05:00', '06:00', '07:00', '08:00', '09:00', '10:00', '11:00'][datum.value / 12]",
            "labelFont": "Liberation Mono", "labelFontWeight": "bold", "labelFontSize": 12, "labelColor": "#7a5c1e", "labelOverlap": false, "title": null
          }
        },
        "y": {
          "type": "quantitative",
          "title": null,
          "scale": {"domain": [-1.85, 102.85], "nice": false, "zero": false},
          "axis": {
            "orient": "right", "grid": false, "domain": false, "tickColor": "#9c8f6a", "tickSize": 5, "labelPadding": 2,
            "values": [10, 20, 30, 40, 50, 60, 70, 80, 90, 100],
            "labelExpr": "datum.value % 20 == 0 ? datum.value : ''",
            "labelFont": "Liberation Mono", "labelFontWeight": "bold", "labelFontSize": 12, "labelColor": "#7a5c1e", "labelOverlap": false, "title": null
          }
        }
      },
      "layer": [
        {"mark": {"type": "rect", "fill": "#f4f2e4"}, "encoding": {"x": {"datum": -0.725}, "x2": {"datum": 223.26}, "y": {"datum": 75}, "y2": {"datum": 102.85}}},
        {"mark": {"type": "rect", "fill": "#f6f1e6"}, "encoding": {"x": {"datum": -0.725}, "x2": {"datum": 223.26}, "y": {"datum": 50}, "y2": {"datum": 75}}},
        {"mark": {"type": "rect", "fill": "#f4f1e2"}, "encoding": {"x": {"datum": -0.725}, "x2": {"datum": 223.26}, "y": {"datum": 25}, "y2": {"datum": 50}}},
        {"mark": {"type": "rect", "fill": "#f5efdf"}, "encoding": {"x": {"datum": -0.725}, "x2": {"datum": 223.26}, "y": {"datum": -1.85}, "y2": {"datum": 25}}},
        {
          "data": {"values": [{"level": 20}, {"level": 40}, {"level": 60}, {"level": 80}]},
          "mark": {"type": "rule", "stroke": "#e6e0d0", "strokeWidth": 1},
          "encoding": {"x": {"datum": -0.725}, "x2": {"datum": 223.26}, "y": {"field": "level"}}
        },
        {
          "data": {"values": [{"level": 100}]},
          "mark": {"type": "rule", "stroke": "#d9d3bf", "strokeWidth": 3},
          "encoding": {"x": {"datum": -0.725}, "x2": {"datum": 223.26}, "y": {"field": "level"}}
        },
        {
          "data": {"name": "rsi"},
          "mark": {"type": "area", "orient": "vertical", "fill": {"gradient": "linear", "x1": 0, "y1": 0, "x2": 0, "y2": 1, "stops": [{"offset": 0, "color": "#f5e6c8"}, {"offset": 0.521, "color": "#f5e6c8"}, {"offset": 0.521, "color": "#dde8d8"}, {"offset": 1, "color": "#dde8d8"}]}},
          "encoding": {"x": {"field": "i"}, "y": {"field": "rsi"}, "y2": {"datum": 50}}
        },
        {
          "data": {"values": [{"level": 75}]},
          "mark": {"type": "rule", "stroke": "#d96b00", "strokeWidth": 1.2},
          "encoding": {"x": {"datum": -0.725}, "x2": {"datum": 223.26}, "y": {"field": "level"}}
        },
        {
          "data": {"values": [{"level": 50}]},
          "mark": {"type": "rule", "stroke": "#6b6b65", "strokeWidth": 1.2},
          "encoding": {"x": {"datum": -0.725}, "x2": {"datum": 223.26}, "y": {"field": "level"}}
        },
        {
          "data": {"values": [{"level": 25}]},
          "mark": {"type": "rule", "stroke": "#0ba20b", "strokeWidth": 1.2},
          "encoding": {"x": {"datum": -0.725}, "x2": {"datum": 223.26}, "y": {"field": "level"}}
        },
        {
          "data": {"name": "rsi"},
          "mark": {"type": "line", "stroke": "#7a5040", "strokeWidth": 1.1},
          "encoding": {"x": {"field": "i"}, "y": {"field": "rsi"}}
        },
        {"mark": {"type": "rect", "fill": "#d9d3c1", "stroke": "#a89c7c"}, "encoding": {"x": {"datum": -0.725}, "x2": {"datum": 8.7}, "y": {"datum": 102.85}, "y2": {"datum": 93.2}}},
        {"mark": {"type": "rect", "fill": "#6e3d22"}, "encoding": {"x": {"datum": -0.12}, "x2": {"datum": 1.15}, "y": {"datum": 101.2}, "y2": {"datum": 95.3}}},
        {
          "data": {"values": [{"label": "RSI (14)"}]},
          "mark": {"type": "text", "align": "left", "baseline": "middle", "font": "Liberation Mono", "fontWeight": "bold", "fontSize": 11.5, "fill": "#3f2f10"},
          "encoding": {"x": {"datum": 1.57}, "y": {"datum": 98}, "text": {"field": "label"}}
        }
      ]
    }
  ]
}
